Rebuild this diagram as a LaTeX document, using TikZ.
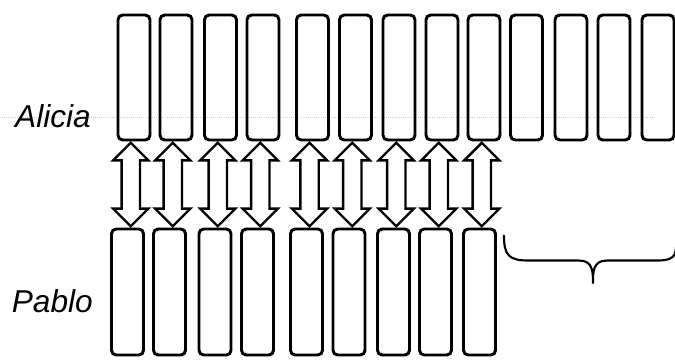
\documentclass[tikz,border=0pt]{standalone}
\usepackage{fontspec}
\newfontfamily\labelfont{Liberation Sans}
\usetikzlibrary{shapes.arrows, positioning, calc}

\begin{document}
\begin{tikzpicture}[
  x=0.03cm, y=-0.03cm,
  card/.style={draw, line width=2.5pt, rounded corners=4pt,
               minimum width=0.96cm, inner sep=0pt},
  topcard/.style={card, minimum height=3.75cm},
  botcard/.style={card, minimum height=3.78cm},
  trade/.style={draw, line width=2pt, double arrow, rotate=90,
                minimum height=2.5cm, inner sep=0pt, inner ysep=0.24cm,
                double arrow head extend=0.25cm},
  who/.style={font=\labelfont\itshape\fontsize{27}{30}\selectfont,
              inner sep=0pt},
  brace/.style={line width=1.8pt, line cap=round}
]
  \useasboundingbox (0,0) rectangle (675,359);
  \draw[gray!40, densely dotted, line width=0.8pt] (0,117) -- (655,117);

  % Alicia's row and Pablo's row
  \foreach \x [count=\i] in {134,176,220.5,263,312.5,355.5,399,442,484,526.5,571,614,658}
    \node[topcard] (t\i) at (\x,77.5) {};
  \foreach \x [count=\i] in {127.5,169.5,215,257.5,306.5,349,393.5,435.5,479.5}
    \node[botcard] (b\i) at (\x,292) {};

  \foreach \i in {1,...,9}
    \path (t\i.south) -- (b\i.north) node[trade, midway] (s\i) {};

  \node[who, anchor=east] (alicia) at (91,116) {Alicia};
  \node[who, anchor=east] (pablo) at (93,301) {Pablo};

  \coordinate (br) at ($(b9.north east)+(7,8)$);
  \draw[brace] (br) .. controls +(0,20) and +(-20,0) .. ++(25,25)
    -- ++(50,0) .. controls +(14,0) and +(0,-12) .. ++(14,23)
    .. controls +(0,-12) and +(-14,0) .. ++(14,-23)
    -- ++(50,0) .. controls +(15,0) and +(0,10) .. ++(19,-14);
\end{tikzpicture}
\end{document}
